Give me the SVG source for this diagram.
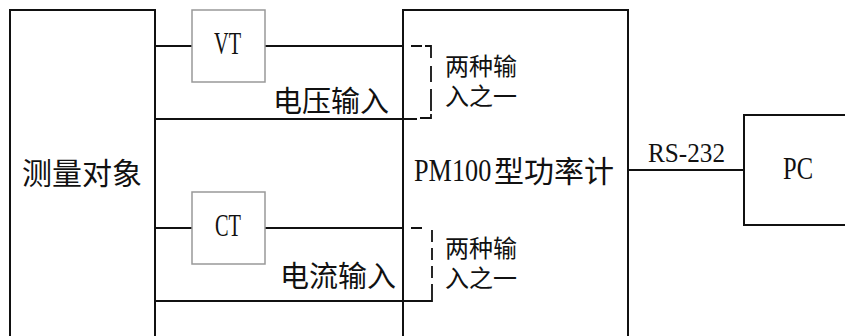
<svg xmlns="http://www.w3.org/2000/svg" width="845" height="336" viewBox="0 0 845 336">
<style>
.box{fill:none;stroke:#111;stroke-width:2}
.tbox{fill:#fff;stroke:#999;stroke-width:1.5}
.ln{fill:none;stroke:#111;stroke-width:2}
.br{fill:none;stroke:#111;stroke-width:1.8}
.t{font-family:"Liberation Serif",serif;fill:#111}
.c{font-family:"Noto Sans CJK SC",sans-serif;fill:#111}
</style>
<rect width="845" height="336" fill="#fff"/>
<g id="connectors">
<line class="ln" x1="155" y1="46" x2="192" y2="46"/>
<line class="ln" x1="265" y1="46" x2="403" y2="46"/>
<line class="ln" x1="155" y1="119" x2="417" y2="119"/>
<line class="ln" x1="155" y1="228" x2="192" y2="228"/>
<line class="ln" x1="265" y1="228" x2="403" y2="228"/>
<line class="ln" x1="155" y1="301" x2="403" y2="301"/>
<line class="ln" x1="628" y1="170" x2="744" y2="170"/>
<text class="t" x="648" y="162" font-size="28" textLength="77" lengthAdjust="spacingAndGlyphs">RS-232</text>
</g>
<g id="obj">
<rect class="box" x="10" y="10" width="145" height="340"/>
<text class="c" x="82" y="184" font-size="30" text-anchor="middle">测量对象</text>
</g>
<g id="vt">
<rect class="tbox" x="192" y="10" width="73" height="72"/>
<text class="t" x="214" y="54" font-size="31" textLength="27" lengthAdjust="spacingAndGlyphs">VT</text>
</g>
<g id="ct">
<rect class="tbox" x="192" y="192" width="73" height="72"/>
<text class="t" x="215" y="236" font-size="31" textLength="26" lengthAdjust="spacingAndGlyphs">CT</text>
</g>
<g id="vin"><text class="c" x="331" y="112" font-size="29" text-anchor="middle">电压输入</text></g>
<g id="iin"><text class="c" x="338" y="287" font-size="29" text-anchor="middle">电流输入</text></g>
<g id="pm">
<rect class="box" x="403" y="10" width="225" height="340"/>
<text class="t" transform="translate(414,181) scale(0.82,1)" x="0" y="0" font-size="32">PM100</text>
<text class="c" x="494" y="182" font-size="30">型功率计</text>
</g>
<g id="sel1">
<path class="br" d="M411,46 H422 M425,46 H431 V58 M431,66 V82 M431,89 V111 M431,114 V118 H420"/>
<text class="c" font-size="24"><tspan x="445" y="75">两种输</tspan><tspan x="445" y="105">入之一</tspan></text>
</g>
<g id="sel2">
<path class="br" d="M411,228 H422 M432,230 V242 M432,248 V260 M432,266 V278 M432,284 V301 H403"/>
<text class="c" font-size="24"><tspan x="445" y="257">两种输</tspan><tspan x="445" y="287">入之一</tspan></text>
</g>
<g id="pc">
<rect class="box" x="744" y="115" width="120" height="110"/>
<text class="t" x="783" y="179" font-size="31" textLength="30" lengthAdjust="spacingAndGlyphs">PC</text>
</g>
</svg>
